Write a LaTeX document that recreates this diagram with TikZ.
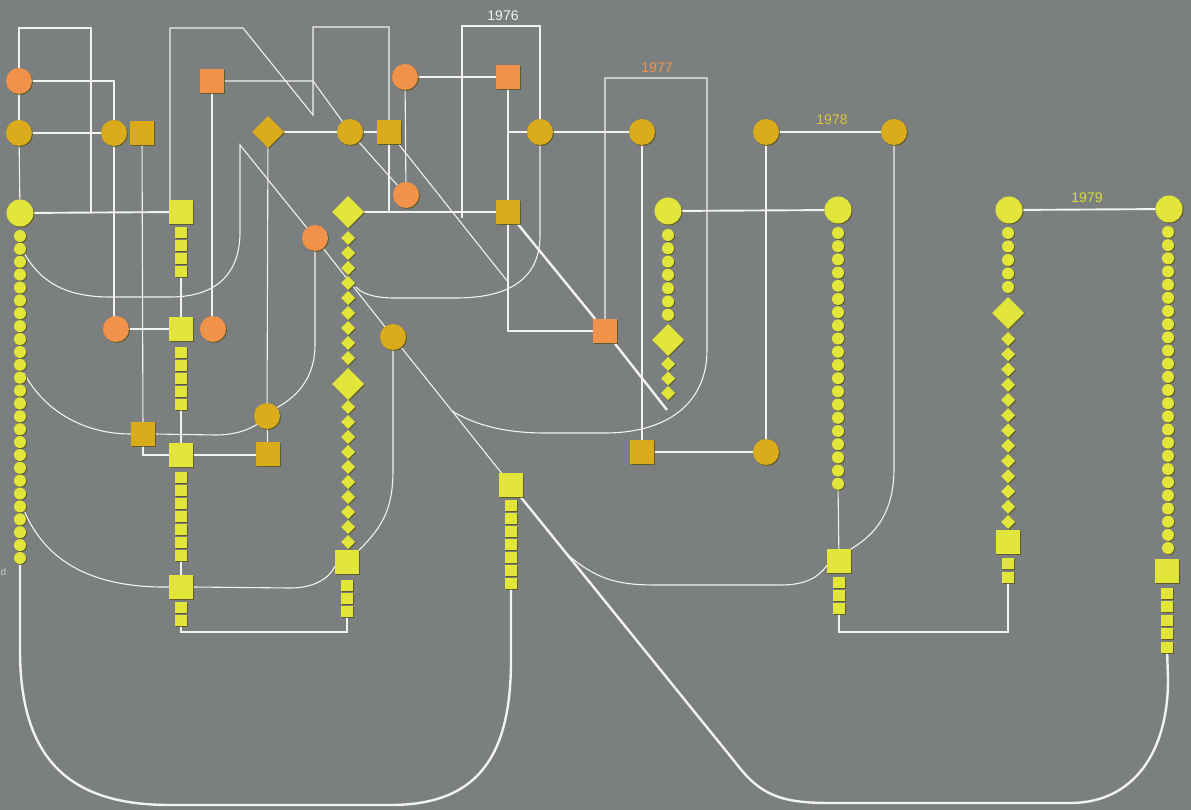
\documentclass[tikz,border=0pt]{standalone}
\usepackage{fontspec}
\setmainfont{Liberation Sans}
\usetikzlibrary{shapes.geometric,shadows,calc}
\definecolor{bgc}{HTML}{7B7F80}
\definecolor{linec}{HTML}{F2F2EE}
\definecolor{ora}{HTML}{F0924A}
\definecolor{gold}{HTML}{DAAC1C}
\definecolor{yel}{HTML}{E2E53A}
\definecolor{shd}{HTML}{5A581C}
\definecolor{cseventyeight}{HTML}{D8C63A}
\definecolor{cseventynine}{HTML}{D4DC3C}
\pgfdeclarelayer{back}
\pgfdeclarelayer{lines}
\pgfsetlayers{back,lines,main}
\tikzset{
  shp/.style={inner sep=0pt, outer sep=0pt, draw=none,
    drop shadow={shadow xshift=1pt, shadow yshift=-1pt, fill=shd, opacity=0.85}},
  bigc/.style={shp, circle, minimum size=27pt},
  goc/.style={shp, circle, minimum size=26pt},
  sqr/.style={shp, rectangle, minimum size=24pt},
  dia/.style={shp, diamond, minimum size=32pt},
  smc/.style={shp, circle, minimum size=12pt},
  sms/.style={shp, rectangle, minimum width=11.5pt, minimum height=11pt},
  smd/.style={shp, diamond, minimum size=14pt},
  yc/.style={smc, fill=yel},
  ys/.style={sms, fill=yel},
  yd/.style={smd, fill=yel},
  ln/.style={draw=linec, line width=1.1pt},
  lnm/.style={draw=linec, line width=1.9pt},
  lnb/.style={draw=linec, line width=2.4pt},
  yr/.style={font=\fontsize{14}{16}\selectfont, inner sep=0pt},
}
\newcommand\mychain[6]{%
  \foreach \i [evaluate=\i as \yy using {#4+#5*(\i-1)}] in {1,...,#6}
    {\node[#1] (#2\i) at (#3,\yy) {};}}
\begin{document}
\begin{tikzpicture}[x=1pt,y=-1pt]
\useasboundingbox (0,0) rectangle (1191,810);
\begin{pgfonlayer}{back}
  \fill[bgc] (0,0) rectangle (1191,810);
\end{pgfonlayer}

% ---------- upper generations ----------
\node[goc,fill=ora]  (O1)  at (19,81) {};
\node[goc,fill=gold] (G1)  at (19,133) {};
\node[goc,fill=gold] (G2)  at (114,133) {};
\node[sqr,fill=gold] (G3)  at (142,133) {};
\node[sqr,fill=ora]  (OS1) at (212,81) {};
\node[dia,fill=gold] (GD1) at (268,132) {};
\node[goc,fill=gold] (G4)  at (350,132) {};
\node[sqr,fill=gold] (GS3) at (389,132) {};
\node[goc,fill=ora]  (O5)  at (405,77) {};
\node[goc,fill=ora]  (O4)  at (406,195) {};
\node[sqr,fill=ora]  (OS2) at (508,77) {};
\node[goc,fill=gold] (G6)  at (540,132) {};
\node[goc,fill=gold] (G7)  at (642,132) {};
\node[goc,fill=gold] (G9)  at (766,132) {};
\node[goc,fill=gold] (G10) at (894,132) {};
\node[sqr,fill=gold] (GS4) at (508,212) {};
\node[goc,fill=ora]  (O6)  at (315,238) {};
\node[goc,fill=ora]  (O2)  at (116,329) {};
\node[goc,fill=ora]  (O3)  at (213,329) {};
\node[sqr,fill=gold] (GS2) at (143,434) {};
\node[goc,fill=gold] (G5)  at (267,416) {};
\node[sqr,fill=gold] (GS5) at (268,454) {};
\node[goc,fill=gold] (G8)  at (393,337) {};
\node[sqr,fill=ora]  (OS3) at (605,331) {};
\node[sqr,fill=gold] (GS6) at (642,452) {};
\node[goc,fill=gold] (G11) at (766,452) {};

% ---------- yellow columns ----------
% A
\node[bigc,fill=yel] (Y1) at (20,213) {};
\mychain{yc}{a}{20}{236}{12.88}{26}
% B
\node[sqr,fill=yel] (YS1) at (181,212) {};
\mychain{ys}{b}{181}{233}{13}{4}
\node[sqr,fill=yel] (YS2) at (181,329) {};
\mychain{ys}{c}{181}{352}{13}{5}
\node[sqr,fill=yel] (YS5) at (181,455) {};
\mychain{ys}{d}{181}{477}{13}{7}
\node[sqr,fill=yel] (YS3) at (181,587) {};
\mychain{ys}{e}{181}{607}{13}{2}
% C
\node[dia,fill=yel] (YD1) at (348,212) {};
\mychain{yd}{f}{348}{238}{15}{9}
\node[dia,fill=yel] (YD2) at (348,384) {};
\mychain{yd}{g}{348}{407}{15}{10}
\node[sqr,fill=yel] (YS4) at (347,562) {};
\mychain{ys}{h}{347}{585}{13}{3}
% D
\node[sqr,fill=yel] (YS6) at (511,485) {};
\mychain{ys}{k}{511}{505}{13}{7}
% E
\node[bigc,fill=yel] (Y2) at (668,211) {};
\mychain{yc}{m}{668}{235}{13.3}{7}
\node[dia,fill=yel] (YD3) at (668,340) {};
\mychain{yd}{n}{668}{364}{14.5}{3}
% F
\node[bigc,fill=yel] (Y3) at (838,210) {};
\mychain{yc}{p}{838}{233}{13.2}{20}
\node[sqr,fill=yel] (YS7) at (839,561) {};
\mychain{ys}{q}{839}{582}{13}{3}
% G
\node[bigc,fill=yel] (Y4) at (1009,210) {};
\mychain{yc}{r}{1008}{233}{13.5}{5}
\node[dia,fill=yel] (YD4) at (1008,313) {};
\mychain{yd}{s}{1008}{339}{15.25}{13}
\node[sqr,fill=yel] (YS8) at (1008,542) {};
\mychain{ys}{t}{1008}{563}{14}{2}
% H
\node[bigc,fill=yel] (Y5) at (1169,209) {};
\mychain{yc}{u}{1168}{232}{13.17}{25}
\node[sqr,fill=yel] (YS9) at (1167,571) {};
\mychain{ys}{v}{1167}{593}{13.5}{5}

% ---------- labels ----------
\node[yr,text=linec] (L76) at (503,16) {1976};
\node[yr,text=ora] (L77) at (657,68) {1977};
\node[yr,text=cseventyeight] (L78) at (832,120) {1978};
\node[yr,text=cseventynine] (L79) at (1087,198) {1979};
\node[text=linec!65!bgc, font=\fontsize{10}{10}\selectfont, inner sep=0pt, anchor=west] (dd) at (0.5,572) {d};

\coordinate (dg1) at (735,762);
\coordinate (mid86) at ($(G8)!0.5!(YS6)$);
\coordinate (br) at ($(YS6)!0.25!(dg1)$);

% ---------- connectors ----------
\begin{pgfonlayer}{lines}
% top-left
\draw[ln] (O1) -- (G1);
\draw[ln] (G1) -- (Y1);
\draw[ln] (O1) |- (91,28) -- (91,213);
\draw[ln] (O1) -| (G2);
\draw[ln] (G1) -- (G2);
\draw[lnm] (Y1) -- (YS1);
\draw[ln] (G2) -- (G2 |- O2);
\draw[ln] (O2) -- (YS2);
\draw[ln] (G3) -- (GS2);
\draw[ln] (GS2) |- (YS5);
\draw[ln] (OS1) -- (OS1 |- O3);
\draw[ln] (YS5) -- (YS5 -| GS5.west);
\draw[ln] (GD1) -- (G5);
\draw[ln] (G5) -- (GS5);
\draw[ln] (GD1) -- (G4);
% N shape
\draw[ln] ([xshift=1pt]YS1.north west) -- (170,28) -- (243,28) -- (313,115) -- (313,27) -- (389,27) -- (GS3);
\draw[ln] (OS1) -- (313,81) -- (G4);
\draw[ln] (G4) -- (GS3);
\draw[ln] (GS3) -- (389,212);
\draw[ln] (G4) -- (O4);
\draw[ln] (O5) -- (O4);
\draw[ln] (O5) -- (OS2);
\draw[ln] (GS3) -- (508,282);
% 1976
\draw[ln] (462,218) -- (462,26) -- (540,26) -- (G6);
\draw[ln] (OS2) -- (GS4);
\draw[ln] (508,132) -- (G6);
\draw[lnm] (YD1) -- (GS4);
\draw[ln] (GS4) |- (OS3);
\draw[lnb] (GS4) -- (OS3) -- (667,410);
\draw[ln] (G6) -- (G7);
\draw[ln] (G6) -- (540,235) .. controls (540,282) and (505,298) .. (455,298)
   -- (395,298) .. controls (375,298) and (362,294) .. (356,287);
% 1977
\draw[ln] (OS3) -- (605,78) -- (707,78) -- (707,350)
   .. controls (707,405) and (665,433) .. (605,433) -- (545,433)
   .. controls (505,433) and (475,425) .. (mid86);
\draw[ln] (G7) -- (GS6);
\draw[ln] (GS6) -- (G11);
\draw[ln] (G9) -- (G11);
\draw[ln] (G9) -- (G10);
\draw[ln] (G10) -- (894,468) .. controls (894,512) and (876,534) .. (YS7.north east);
\draw[lnm] (Y2) -- (Y3);
\draw[lnm] (Y4) -- (Y5);
% middle curves
\draw[ln] (O6) -- (G8);
\draw[ln] (G8) -- (YS6);
\draw[ln] (a2.south east) .. controls (42,285) and (70,297) .. (110,297) -- (170,297)
   .. controls (215,297) and (240,275) .. (240,232) -- (240,145) -- (O6);
\draw[ln] (a12.north east) .. controls (45,412) and (85,434) .. (GS2.west);
\draw[ln] (GS2.east) -- (215,435) .. controls (235,435) and (248,430) .. (G5.220);
\draw[ln] (G5.40) .. controls (300,395) and (315,375) .. (315,345) -- (O6);
\draw[ln] (a22.south east) .. controls (45,560) and (90,588) .. (YS3.west);
\draw[ln] (YS3.east) -- (290,588) .. controls (312,588) and (328,580) .. (YS4.200);
\draw[ln] (YS4.north east) .. controls (385,525) and (393,505) .. (393,470) -- (G8);
\draw[ln] (br) .. controls (595,578) and (615,585) .. (655,585) -- (780,585)
   .. controls (805,585) and (818,578) .. (YS7.200);
% chain joints
\draw[ln] (b4) -- (YS2);
\draw[ln] (c5) -- (YS5);
\draw[ln] (d7) -- (YS3);
\draw[ln] (p20) -- (YS7);
\draw[lnm] (e2) -- ++(0,12) -| (h3);
\draw[lnm] (q3) -- ++(0,24) -| (t2);
% big U shapes
\draw[lnb] (a26) -- (20,650) .. controls (20,765) and (75,805) .. (170,805)
   -- (390,805) .. controls (475,805) and (511,760) .. (511,660) -- (k7);
\draw[lnb] (YS6) -- (dg1) .. controls (760,795) and (780,803) .. (830,803)
   -- (1070,803) .. controls (1135,803) and (1168,750) .. (1168,680) -- (v5);
\end{pgfonlayer}
\end{tikzpicture}
\end{document}
